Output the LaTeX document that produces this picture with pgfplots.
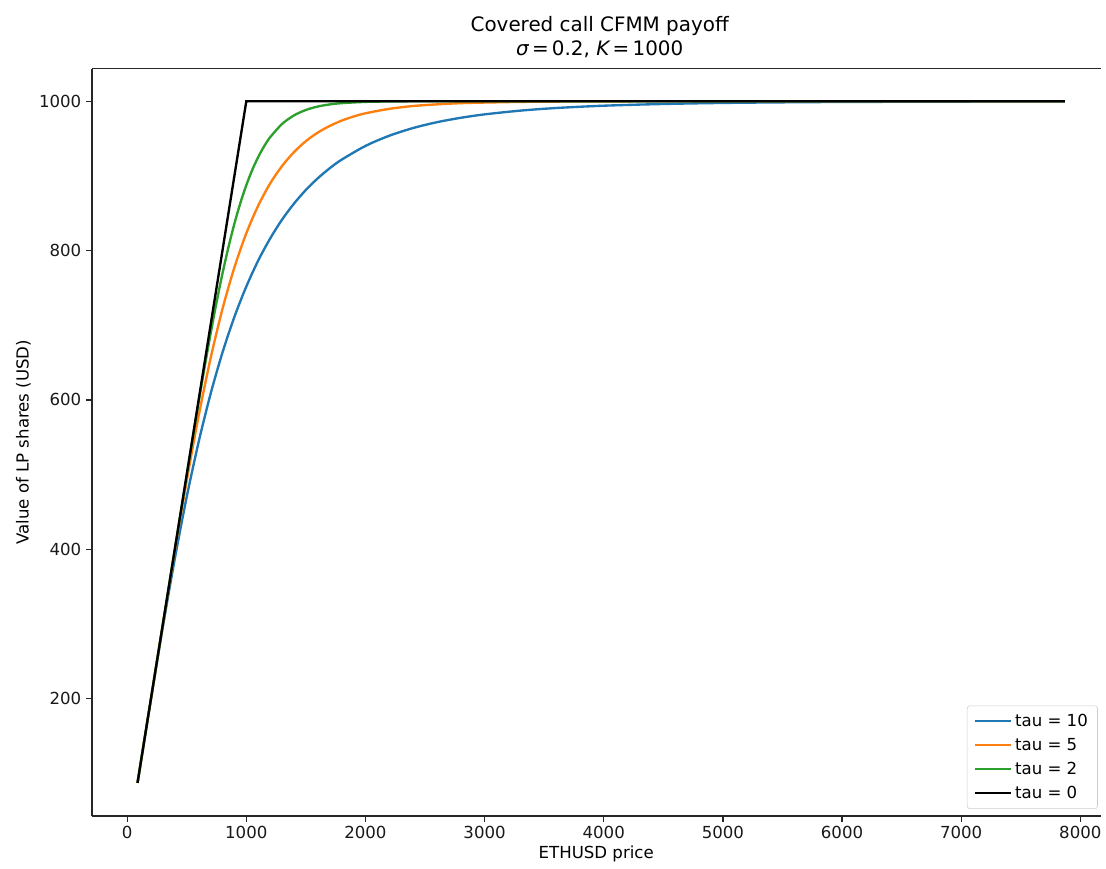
\documentclass[border=0pt]{standalone}
\usepackage{fontspec}
\setmainfont{DejaVu Sans}
\usepackage{pgfplots}
\pgfplotsset{compat=1.18}
\usetikzlibrary{calc}

\definecolor{mplblue}{HTML}{1F77B4}
\definecolor{mplorange}{HTML}{FF7F0E}
\definecolor{mplgreen}{HTML}{2CA02C}

\begin{document}
\begin{tikzpicture}
\begin{axis}[
    name=ax,
    scale only axis,
    width=729.9pt, height=540.7pt,
    xmin=-296, xmax=8170,
    ymin=42.8, ymax=1043.6,
    axis x line*=box, axis y line*=left,
    axis line style={line width=0.95pt, black!85},
    xtick={0,1000,...,8000},
    ytick={200,400,...,1000},
    tick align=outside, tick pos=left,
    major tick length=4.2pt,
    every tick/.style={line width=0.95pt, black!85},
    /pgf/number format/assume math mode=true,
    /pgf/number format/1000 sep={},
    font=\fontsize{12}{14.4}\selectfont,
    ticklabel style={font=\fontsize{12}{14.4}\selectfont, text=black!90},
    xlabel={ETHUSD price},
    ylabel={Value of LP shares (USD)},
    xlabel style={font=\fontsize{12}{14.4}\selectfont, yshift=2pt},
    ylabel style={font=\fontsize{12}{14.4}\selectfont, yshift=-1pt},
    title={Covered call CFMM payoff\\{\itshape σ}\,=\,0.2, {\itshape K}\,=\,1000},
    title style={font=\fontsize{14.4}{17.5}\selectfont, align=center, yshift=-2pt, xshift=2.5pt},
    legend style={at={(1,0)}, anchor=south east, xshift=-2pt, yshift=5pt,
        draw=black!20, rounded corners=2pt, font=\fontsize{12}{14.4}\selectfont,
        inner xsep=5pt, inner ysep=4pt, row sep=3pt},
    legend cell align=left,
    legend image code/.code={\draw[#1] (0pt,0pt) -- (26pt,0pt);},
]
\addplot[mplblue, line width=1.7pt, smooth, tension=0.5] coordinates {
(87,87) (150,149.9) (200,199.5) (300,296.4) (400,387.3) (500,470.1)
(600,543.6) (700,607.9) (800,663.4) (900,711.1) (1000,751.8) (1100,786.6)
(1200,816.1) (1300,841.4) (1400,862.8) (1500,881.2) (1600,896.8) (1700,910.2)
(1800,921.7) (2000,940.1) (2200,953.8) (2400,964.1) (2600,971.9) (2800,977.8)
(3000,982.4) (3300,987.4) (3600,990.9) (4000,994.0) (4500,996.3) (5000,997.7)
(5500,998.5) (6000,999.0) (7000,999.5) (7870,999.75)
};
\addlegendentry{tau = 10}
\addplot[mplorange, line width=1.7pt, smooth, tension=0.5] coordinates {
(87,87) (200,200.0) (300,299.7) (400,397.9) (500,491.9) (600,578.5)
(700,655.5) (800,721.8) (900,777.3) (1000,823.1) (1100,860.1) (1200,889.8)
(1300,913.2) (1400,931.8) (1500,946.5) (1600,958.0) (1700,966.9) (1800,974.0)
(1900,979.5) (2000,983.8) (2200,989.8) (2400,993.6) (2600,995.8) (2800,997.4)
(3000,998.2) (3300,999.1) (3600,999.5) (4000,999.8) (5000,999.95) (7870,1000)
};
\addlegendentry{tau = 5}
\addplot[mplgreen, line width=1.7pt, smooth, tension=0.5] coordinates {
(87,87) (300,300.0) (400,400.0) (500,499.5) (600,596.9) (650,643.7)
(700,688.4) (750,730.4) (800,769.2) (850,804.4) (900,835.9) (950,863.6)
(1000,887.5) (1050,908.0) (1100,925.3) (1150,939.8) (1200,951.7) (1300,969.5)
(1400,981.0) (1500,988.3) (1600,992.9) (1700,995.7) (1800,997.4) (2000,999.1)
(2200,999.7) (2400,999.9) (2600,1000) (7870,1000)
};
\addlegendentry{tau = 2}
\addplot[black, line width=1.7pt] coordinates {
(87,87) (1000,1000) (7870,1000)
};
\addlegendentry{tau = 0}
\end{axis}
\path ($(ax.south west)+(-66.5pt,-38.2pt)$) rectangle ($(ax.north east)+(0pt,49.7pt)$);
\end{tikzpicture}
\end{document}
